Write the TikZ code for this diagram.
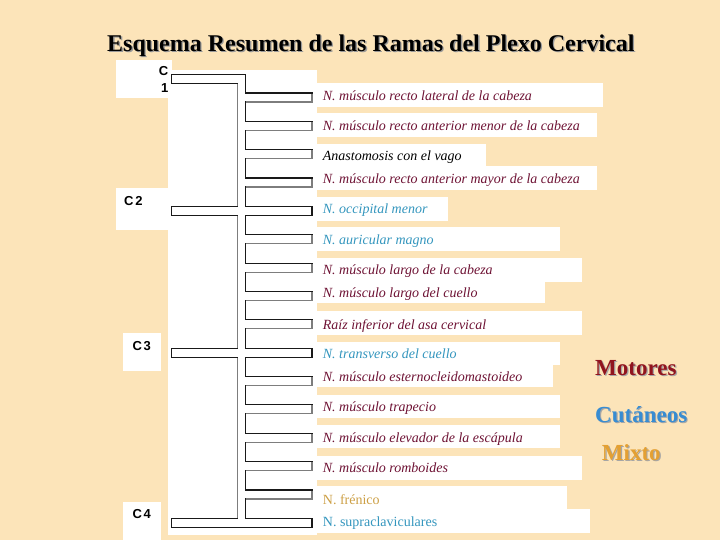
\documentclass[tikz,border=0pt]{standalone}
\usepackage{fontspec}
\setmainfont{Liberation Serif}
\newfontfamily\arialf{Liberation Sans}
\definecolor{bg}{RGB}{252,228,185}
\definecolor{motor}{RGB}{110,18,52}
\definecolor{cutan}{RGB}{52,150,190}
\definecolor{mixto}{RGB}{205,160,70}
\definecolor{legmot}{RGB}{145,20,30}
\definecolor{legcut}{RGB}{55,140,210}
\definecolor{legmix}{RGB}{228,160,50}
\definecolor{shade}{RGB}{125,125,125}
\begin{document}
\begin{tikzpicture}[x=1pt,y=-1pt,
  lbl/.style={anchor=base west,inner sep=0,font=\fontsize{14}{16}\selectfont\itshape},
  lblup/.style={anchor=base west,inner sep=0,font=\fontsize{14}{16}\selectfont},
  clab/.style={anchor=base west,inner sep=0,font=\arialf\bfseries\fontsize{13}{14}\selectfont},
  leg/.style={anchor=base west,inner sep=0,font=\bfseries\fontsize{23}{24}\selectfont},
  ttl/.style={anchor=base west,inner sep=0,font=\bfseries\fontsize{24}{26}\selectfont},
  comb/.style={line width=1.2pt,draw=black!90,line join=miter},
  combshade/.style={line width=1.2pt,draw=shade}]
\useasboundingbox (0,0) rectangle (720,540);
\fill[bg] (0,0) rectangle (720,540);
% white panels
\fill[white] (168,70) rectangle (317,535);
\fill[white] (116,60) rectangle (172,98);
\fill[white] (116,188.3) rectangle (168,230);
\fill[white] (122.7,332.7) rectangle (161,370.7);
\fill[white] (122.7,502) rectangle (161,540);
\foreach \r/\t/\b in {603.3/83.3/106.7, 596.7/112.7/136.7, 485.7/144.3/165.7, 596.7/165.7/190,
  448.3/197.3/220.7, 560/227.3/251, 581.7/257.7/281.7, 545/281.7/303.3, 581.7/311/335,
  560/342.3/365, 552.7/365/386.7, 560/395/418.3, 560/425/448.3, 581.7/456/480,
  566.7/485.7/509, 590/509/533.3}
  \fill[white] (317,\t) rectangle (\r,\b);
% title
\node[ttl,text=black!40] (titleshadow) at (108.3,53) {Esquema Resumen de las Ramas del Plexo Cervical};
\node[ttl] (title) at (107,51.7) {Esquema Resumen de las Ramas del Plexo Cervical};
% comb outline
\draw[comb] (171.7,74.3) -- (245.7,74.3)
  \foreach \i in {0,...,14} { -- (245.7,{93+\i*28.35}) -- (312,{93+\i*28.35}) -- (312,{102+\i*28.35}) -- (245.7,{102+\i*28.35}) }
  -- (245.7,518.25) -- (312,518.25) -- (312,527.25) -- (171.7,527.25) -- (171.7,518.25)
  -- (237.7,518.25) -- (237.7,357.15) -- (171.7,357.15) -- (171.7,348.15) -- (237.7,348.15)
  -- (237.7,215.4) -- (171.7,215.4) -- (171.7,206.4) -- (237.7,206.4) -- (237.7,83.3)
  -- (171.7,83.3) -- cycle;
\draw[combshade] (237.7,84) -- (237.7,205.8) (237.7,216) -- (237.7,347.5) (237.7,357.8) -- (237.7,517.6);
\foreach \i in {0,1,2,3,5,6,7,8,10,11,12,13,14}
  \draw[combshade] (312,{93.6+\i*28.35}) -- (312,{102+\i*28.35}) -- (246.3,{102+\i*28.35});
% C labels
\node[clab,anchor=base east] (c1a) at (168.5,76) {C};
\node[clab,anchor=base east] (c1b) at (168.5,92.7) {1};
\node[clab] (c2) at (124,206) {C\kern1.8pt2};
\node[clab] (c3) at (132.3,350.7) {C\kern1.8pt3};
\node[clab] (c4) at (132.3,518.5) {C\kern1.8pt4};
% branch labels
\node[lbl,text=motor] (l1) at (322.7,100.5) {N. músculo recto lateral de la cabeza};
\node[lbl,text=motor] (l2) at (322.7,130.5) {N. músculo recto anterior menor de la cabeza};
\node[lbl,text=black] (l3) at (322.7,160.5) {Anastomosis con el vago};
\node[lbl,text=motor] (l4) at (322.7,183.5) {N. músculo recto anterior mayor de la cabeza};
\node[lbl,text=cutan] (l5) at (322.7,213.5) {N. occipital menor};
\node[lbl,text=cutan] (l6) at (322.7,244.5) {N. auricular magno};
\node[lbl,text=motor] (l7) at (322.7,274.5) {N. músculo largo de la cabeza};
\node[lbl,text=motor] (l8) at (322.7,297.5) {N. músculo largo del cuello};
\node[lbl,text=motor] (l9) at (322.7,329) {Raíz inferior del asa cervical};
\node[lbl,text=cutan] (l10) at (322.7,358.5) {N. transverso del cuello};
\node[lbl,text=motor] (l11) at (322.7,381) {N. músculo esternocleidomastoideo};
\node[lbl,text=motor] (l12) at (322.7,411.5) {N. músculo trapecio};
\node[lbl,text=motor] (l13) at (322.7,442.5) {N. músculo elevador de la escápula};
\node[lbl,text=motor] (l14) at (322.7,472.5) {N. músculo romboides};
\node[lblup,text=mixto] (l15) at (322.7,504) {N. frénico};
\node[lblup,text=cutan] (l16) at (322.7,526.5) {N. supraclaviculares};
% legend
\node[leg,text=black!35] (motshadow) at (596.2,376.2) {Motores};
\node[leg,text=legmot] (mot) at (595,375) {Motores};
\node[leg,text=black!35] (cutshadow) at (596.2,423.5) {Cutáneos};
\node[leg,text=legcut] (cut) at (595,422.3) {Cutáneos};
\node[leg,text=black!35] (mixshadow) at (602.9,461.2) {Mixto};
\node[leg,text=legmix] (mix) at (601.7,460) {Mixto};
\end{tikzpicture}
\end{document}
